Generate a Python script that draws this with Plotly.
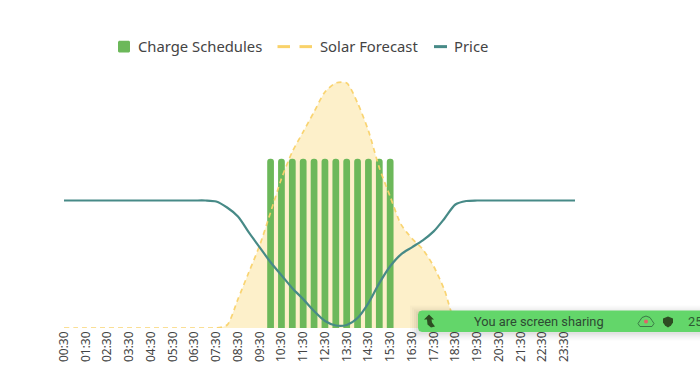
import plotly.graph_objects as go

times = []
for h in range(24):
    times.append(f"{h:02d}:30")
    times.append(f"{h+1:02d}:00")
tick_labels = times[::2]

solar = [0]*14 + [0.00, 0.03, 0.29, 0.56, 0.83, 1.16, 1.50, 1.77, 1.97, 2.17, 2.37, 2.46,
                  2.46, 2.26, 1.98, 1.61, 1.32, 1.04, 0.90, 0.79, 0.62, 0.38, 0.06] + [0]*11
price = [1.28]*14 + [1.27, 1.21, 1.12, 0.96, 0.81, 0.66, 0.53, 0.40, 0.29, 0.17, 0.07, 0.025,
                     0.03, 0.10, 0.25, 0.45, 0.62, 0.74, 0.81, 0.88, 0.97, 1.10, 1.24, 1.275] + [1.28]*10
charge = [None]*19 + [1.70]*12 + [None]*17

GREEN, YEL, TEAL = "#6cb85a", "#f9d26a", "#478a87"
W, H = 700, 391
L, R, T, B = 64, 575, 78.5, 328.5
def px(x): return (x - L) / (R - L)
def py(y): return (B - y) / (B - T)

fig = go.Figure()
fig.add_trace(go.Scatter(x=times, y=solar, yaxis="y", mode="none", fill="tozeroy",
                         fillcolor="#fdf0ca", line=dict(shape="spline", smoothing=0.7),
                         showlegend=False, hoverinfo="skip"))
fig.add_trace(go.Bar(x=times, y=charge, yaxis="y2", name="Charge Schedules", showlegend=False,
                     marker=dict(color=GREEN, line_width=0, cornerradius=3), width=0.62))
fig.add_trace(go.Scatter(x=times, y=solar, yaxis="y2", mode="lines", name="Solar Forecast", showlegend=False,
                         cliponaxis=False,
                         line=dict(color="rgba(249,210,106,0.95)", width=1.7, dash="5px,4px", shape="spline", smoothing=0.7)))
fig.add_trace(go.Scatter(x=times, y=price, yaxis="y2", mode="lines", name="Price", showlegend=False,
                         cliponaxis=False,
                         line=dict(color=TEAL, width=2.2, shape="spline", smoothing=0.8)))

font = "Noto Sans"
def ptext(text, x, y, size, color, family=font, anchor="left"):
    return dict(text=text, x=px(x), y=py(y), xref="paper", yref="paper", showarrow=False,
                xanchor=anchor, yanchor="middle", font=dict(family=family, size=size, color=color))
def pshape(kind, **kw):
    return dict(type=kind, xref="paper", yref="paper", **kw)
def P(points):
    return "M" + " L".join(f"{px(x):.5f},{py(y):.5f}" for x, y in points) + " Z"
def hline(x0, x1, y, color, width):
    return pshape("line", x0=px(x0), x1=px(x1), y0=py(y), y1=py(y), line=dict(color=color, width=width))

shapes = [
    # legend keys
    pshape("path", fillcolor=GREEN, line_width=0,
           path=P([(119, 40), (129, 40), (130, 41), (130, 51), (129, 52), (119, 52), (118, 51), (118, 41)])),
    hline(277.5, 290, 46, YEL, 3),
    hline(299.5, 312, 46, YEL, 3),
    hline(434, 447, 46, TEAL, 3),
]

# banner shadow, body and icons
banner = "#63d66a"
for i, a in enumerate((0.02, 0.025, 0.03, 0.04)):
    g = 8 - i*2
    shapes.append(pshape("rect", x0=px(418-g), x1=px(700), y0=py(311-g+3), y1=py(332+g+1),
                         fillcolor=f"rgba(0,0,0,{a})", line_width=0))
bx0, bx1, by0, by1 = 418, 700, 311, 332.5
shapes.append(pshape("path", fillcolor=banner, line_width=0,
                     path=P([(bx0+4, by0), (bx1, by0), (bx1, by1), (bx0+4, by1), (bx0+1, by1-1), (bx0, by1-4),
                             (bx0, by0+4), (bx0+1, by0+1)])))
shapes.append(pshape("path", fillcolor="#2d4d22", line_width=0,
                     path=P([(429, 315), (434, 320), (431.5, 320), (432, 323), (435, 327), (431, 328), (427.5, 325),
                             (427, 320), (424, 320)])))
shapes.append(pshape("path", fillcolor="#2d4d22", line_width=0,
                     path=P([(668, 317), (673, 319), (673, 323), (671, 326), (668, 328), (665, 326), (663, 323), (663, 319)])))
shapes.append(pshape("path", fillcolor="rgba(0,0,0,0)", line=dict(color="#3b7a46", width=1),
                     path=P([(640, 327), (652, 327), (654, 324), (652, 321), (650, 318), (646, 316.5), (642, 318), (640, 321), (638, 324)])))
shapes.append(pshape("circle", x0=px(644), x1=px(648), y0=py(320), y1=py(324), fillcolor="#e2616a", line_width=0))

annotations = [
    ptext("Charge Schedules", 136, 45.5, 14.8, "#444"),
    ptext("Solar Forecast", 318, 45.5, 14.8, "#444"),
    ptext("Price", 452, 45.5, 14.8, "#444"),
    ptext("You are screen sharing", 538.5, 322, 12.8, "#2e4a33", "Roboto", "center"),
    ptext("25", 686, 322, 12.8, "#2e5a33", "Roboto"),
]

fig.update_layout(
    width=W, height=H, autosize=False,
    margin=dict(l=L, r=W-R, t=T, b=H-B, pad=0),
    paper_bgcolor="white", plot_bgcolor="white",
    barmode="overlay", hovermode=False, showlegend=False,
    xaxis=dict(type="category", categoryorder="array", categoryarray=times, range=[0, 47],
               tickmode="array", tickvals=tick_labels, ticktext=tick_labels, tickangle=-90,
               tickfont=dict(family=font, size=12, color="#444"), ticks="", showgrid=False,
               showline=False, zeroline=False, ticklen=0),
    yaxis=dict(range=[0, 2.5], visible=False, fixedrange=True),
    yaxis2=dict(range=[0, 2.5], visible=False, overlaying="y", side="left", fixedrange=True),
    shapes=shapes, annotations=annotations,
)
fig.write_html("out.html", config=dict(displayModeBar=False),
               post_script="document.body.style.margin='0';")
